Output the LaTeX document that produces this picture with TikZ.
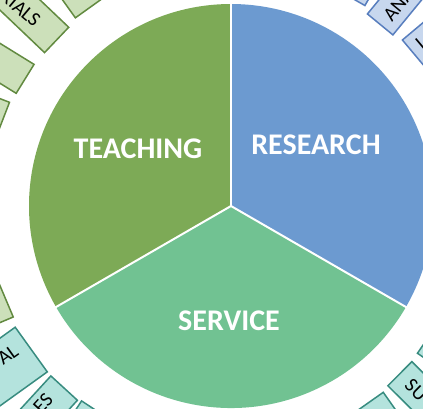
\documentclass[tikz,border=0pt]{standalone}
\usepackage{fontspec}
\setmainfont{Carlito}
\definecolor{teachfill}{RGB}{125,170,86}
\definecolor{resfill}{RGB}{108,154,208}
\definecolor{servfill}{RGB}{113,194,146}
\definecolor{gbfill}{RGB}{204,224,186}
\definecolor{gbdraw}{RGB}{98,138,64}
\definecolor{bbfill}{RGB}{199,215,238}
\definecolor{bbdraw}{RGB}{88,126,190}
\definecolor{tbfill}{RGB}{180,227,221}
\definecolor{tbdraw}{RGB}{56,140,128}
\tikzset{
  greenbox/.style={fill=gbfill,draw=gbdraw,line width=1.5pt},
  bluebox/.style={fill=bbfill,draw=bbdraw,line width=1.5pt},
  tealbox/.style={fill=tbfill,draw=tbdraw,line width=1.5pt},
  pielabel/.style={text=white,font=\fontsize{30}{34}\selectfont\bfseries,inner sep=0pt},
  boxlabel/.style={text=black,font=\fontsize{20}{24}\selectfont,inner sep=0pt},
  divider/.style={draw=white,line width=2pt}
}
\newcommand\radbox[4]{% angle, inner radius, width, style
  \begin{scope}[shift={(231,206)},rotate=#1]
    \draw[#4] (#2,-#3/2) rectangle ({#2+170},#3/2);
  \end{scope}}
\begin{document}
\begin{tikzpicture}[x=1pt,y=-1pt]
\useasboundingbox (0,0) rectangle (423,408);
\clip (0,0) rectangle (423,408);
\fill[white] (0,0) rectangle (423,408);
% outer boxes
\radbox{125.6}{243.6}{34}{greenbox}
\radbox{136.4}{240.8}{35}{greenbox}
\radbox{148.3}{242}{34}{greenbox}
\radbox{158.9}{244}{34}{greenbox}
\radbox{202.9}{243.8}{35}{greenbox}
\radbox{215.7}{246}{55}{tealbox}
\radbox{227.5}{247}{36}{tealbox}
\radbox{236.5}{245}{34}{tealbox}
\radbox{-54.8}{240}{34}{tealbox}
\radbox{-44.8}{238}{34}{tealbox}
\radbox{-34.2}{237}{34}{tealbox}
\radbox{60.3}{240.5}{34}{bluebox}
\radbox{50.6}{235}{33}{bluebox}
\radbox{40}{238}{34}{bluebox}
% box texts
\node[boxlabel,rotate=-40,anchor=east] (tmat) at (38,23) {RIALS};
\node[boxlabel,rotate=50.6,anchor=west] (tana) at (387,19) {ANA};
\node[boxlabel,rotate=40] (tin) at (420,44) {I};
\node[boxlabel,rotate=-44.8,anchor=west] (tsu) at (408,382) {SU};
\node[boxlabel,rotate=47.5] (tes) at (43,403) {ES};
\node[boxlabel,rotate=35.7,anchor=east] (tal) at (16,349) {AL};
% pie
\coordinate (c) at (231,206);
\fill[teachfill] (c) -- ++(-90:202) arc[start angle=-90,end angle=-210,radius=202] -- cycle;
\fill[resfill] (c) -- ++(30:202) arc[start angle=30,end angle=-90,radius=202] -- cycle;
\fill[servfill] (c) -- ++(150:202) arc[start angle=150,end angle=30,radius=202] -- cycle;
\draw[divider] (c) -- (231,3);
\draw[divider] (c) -- ++(150:203);
\draw[divider] (c) -- ++(30:203);
\node[pielabel] (teach) at (138,149) {TEACHING};
\node[pielabel] (res) at (316,145) {RESEARCH};
\node[pielabel] (serv) at (229,321) {SERVICE};
\end{tikzpicture}
\end{document}
